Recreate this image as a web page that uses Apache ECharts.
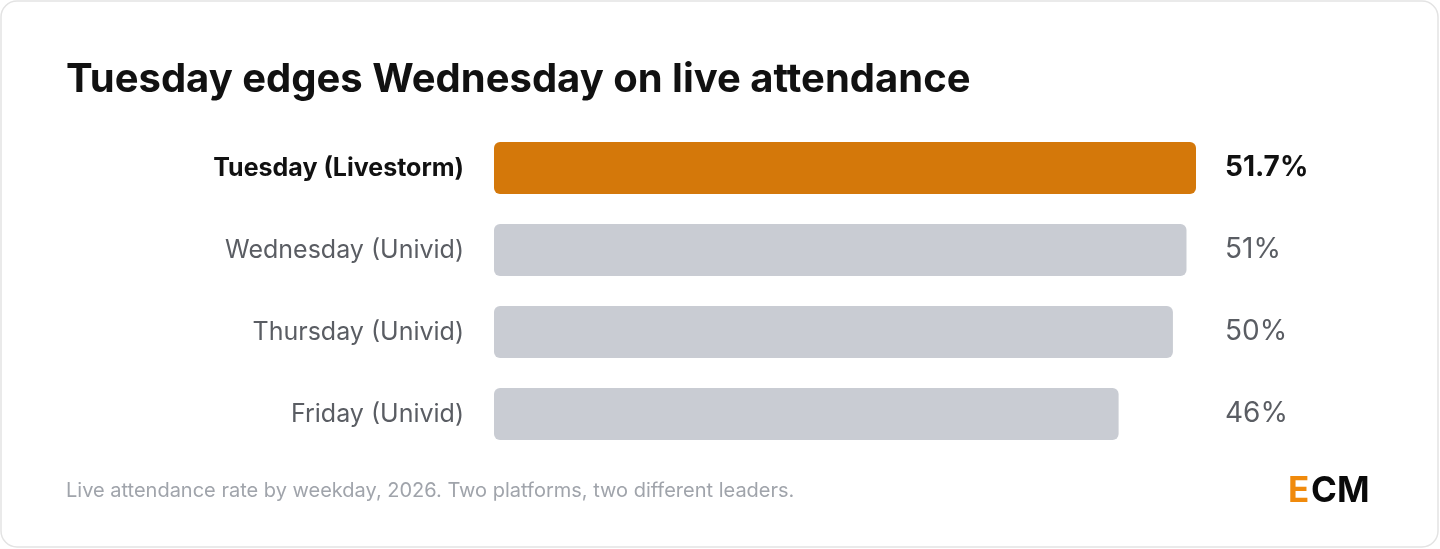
<!DOCTYPE html>
<html><head><meta charset="utf-8">
<script src="https://cdn.jsdelivr.net/npm/echarts@6/dist/echarts.min.js"></script>
<style>html,body{margin:0;padding:0;background:#fff}#c{width:1440px;height:549px}</style>
</head><body><div id="c"></div>
<script>
const categories = ['Tuesday (Livestorm)','Wednesday (Univid)','Thursday (Univid)','Friday (Univid)'];
const values = [51.7, 51, 50, 46];
const valueLabels = ['51.7%','51%','50%','46%'];
const highlight = 0;
const F = 'Inter, "Noto Sans", sans-serif';
const chart = echarts.init(document.getElementById('c'));
chart.setOption({
  animation:false,
  graphic:[
    {type:'rect',shape:{x:1,y:1,width:1437,height:546,r:16},style:{fill:'#fff',stroke:'#e3e3e3',lineWidth:1.5},z:-10},
    {type:'text',left:66,top:60,style:{text:'Tuesday edges Wednesday on live attendance',font:'bold 40px '+F,fill:'#111'}},
    {type:'text',left:66,top:481,style:{text:'Live attendance rate by weekday, 2026. Two platforms, two different leaders.',font:'20px '+F,fill:'#a0a4ab'}},
    {type:'text',left:1288,top:474,style:{text:'E',font:'bold 35px '+F,fill:'#f08a0c'}},
    {type:'text',left:1311,top:474,style:{text:'CM',font:'bold 35px '+F,fill:'#0a0a0a'}}
  ],
  grid:{left:494,right:244,top:127,height:328},
  xAxis:{type:'value',min:0,max:51.7,show:false},
  yAxis:[
    {type:'category',inverse:true,data:categories,axisLine:{show:false},axisTick:{show:false},
     axisLabel:{margin:30,fontFamily:F,fontSize:25,formatter:(v,i)=>i===highlight?'{b|'+v+'}':'{n|'+v+'}',
       rich:{b:{fontWeight:'bold',color:'#111',fontSize:25,fontFamily:F},n:{color:'#5a5d63',fontSize:25,fontFamily:F}}}},
    {type:'category',inverse:true,position:'right',data:valueLabels,axisLine:{show:false},axisTick:{show:false},
     axisLabel:{margin:29,align:'left',fontFamily:F,fontSize:28,formatter:(v,i)=>i===highlight?'{b|'+v+'}':'{n|'+v+'}',
       rich:{b:{fontWeight:'bold',color:'#111',fontSize:28,fontFamily:F},n:{color:'#5a5d63',fontSize:28,fontFamily:F}}}}
  ],
  series:[{type:'bar',barWidth:52,data:values.map((v,i)=>({value:v,itemStyle:{color:i===highlight?'#d4780a':'#c9ccd3',borderRadius:6}}))}]
});
</script></body></html>
